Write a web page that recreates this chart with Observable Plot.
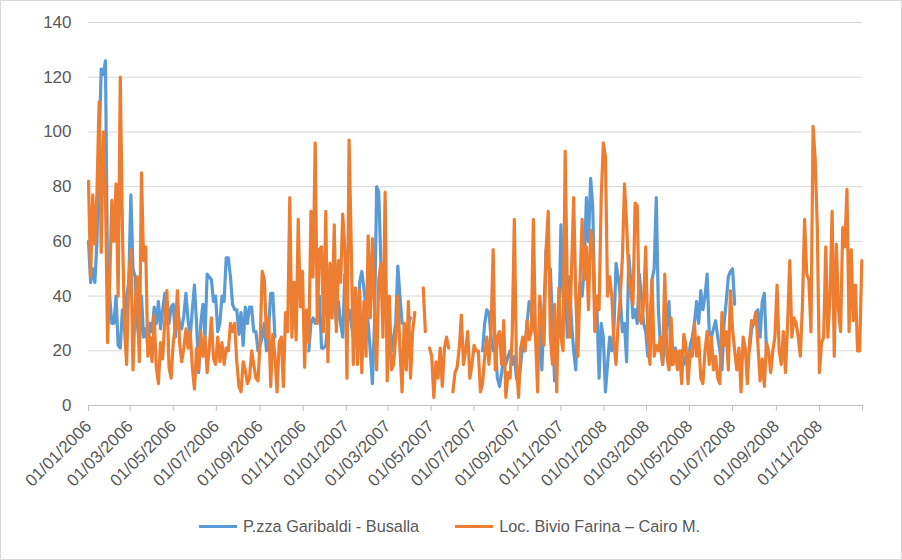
<!DOCTYPE html>
<html><head><meta charset="utf-8">
<script src="https://cdn.jsdelivr.net/npm/d3@7"></script>
<script src="https://cdn.jsdelivr.net/npm/@observablehq/plot@0.6"></script>
<style>
body{margin:0;background:#fff;}
#wrap{position:relative;width:902px;height:560px;font-family:"Liberation Sans",Arial,sans-serif;color:#595959;overflow:hidden;}
#frame{position:absolute;left:0;top:0;width:902px;height:560px;box-sizing:border-box;border:1px solid #D9D9D9;pointer-events:none;}
#chart{position:absolute;left:0;top:0;}
#legend{position:absolute;left:199px;top:517px;display:flex;align-items:center;font-size:16.3px;white-space:nowrap;}
.item{display:flex;align-items:center;margin-right:36px;}
.sw{display:inline-block;width:38px;height:3px;margin-right:6px;}
</style></head>
<body><div id="wrap"><div id="chart"></div><div id="legend"></div><div id="frame"></div></div>
<script>
const startDate = "2006-01-01";
const stepDays = 3;
const seriesNames = ["P.zza Garibaldi - Busalla", "Loc. Bivio Farina \u2013 Cairo M."];
const seriesColors = ["#5B9BD5", "#ED7D31"];
const yTicks = [0, 20, 40, 60, 80, 100, 120, 140];

const busalla = [
  60,45,50,45,60,95,123,121,126,47,
  40,30,30,40,22,21,35,30,40,45,
  77,50,47,30,22,40,25,28,22,30,
  27,36,30,38,28,35,41,38,30,36,
  37,25,35,30,28,33,41,31,25,35,
  44,30,12,30,37,25,48,47,46,38,
  40,27,30,40,38,54,54,47,37,35,
  35,26,34,22,36,30,36,36,27,27,
  20,22,25,30,20,28,41,41,25,null,
  null,null,null,null,null,null,null,null,null,null,
  null,null,null,null,20,30,32,30,32,40,
  21,21,22,30,43,35,40,30,38,30,
  25,48,35,35,30,25,35,30,45,49,
  43,35,30,20,8,30,80,78,52,35,
  40,25,30,20,25,30,51,40,30,30,
  25,30,32,null,null,null,null,null,null,null,
  null,null,null,null,null,null,null,null,null,null,
  null,null,null,null,null,null,null,null,null,null,
  null,null,null,null,null,null,20,30,35,34,
  25,20,22,10,7,12,18,15,18,20,
  15,18,10,8,15,23,20,30,38,35,
  32,25,20,30,13,35,57,50,50,30,
  9,25,30,66,40,45,25,47,30,20,
  13,35,45,40,50,76,60,83,73,35,
  35,10,30,25,5,15,25,20,28,52,
  47,40,27,30,16,55,45,32,35,30,
  48,40,30,27,18,30,46,50,76,35,
  21,15,25,30,38,15,20,21,18,15,
  20,15,18,15,22,25,30,38,30,42,
  35,40,48,27,25,28,31,25,20,13,
  30,38,47,49,50,37,null,null,null,null,
  null,null,20,28,30,34,35,25,38,41,
  20,null,null,null,null,null,null,null,null,null,
  null,null,null,null,null,null,null,null,null,null,
  null,null,null,null,null,null,null,null,null,null,
  null,null,null,null,null,null,null,null,null,null,
  null,null,null,null,null,null
];

const cairo = [
  82,47,77,59,78,111,56,100,78,23,
  45,75,60,81,40,120,65,28,15,45,
  57,13,36,47,16,85,53,58,18,25,
  16,33,14,8,23,17,31,42,14,10,
  23,29,42,23,16,21,28,21,27,14,
  6,21,13,27,18,25,12,21,32,17,
  15,25,16,23,15,21,20,30,27,30,
  16,7,5,16,13,8,10,20,15,10,
  9,23,49,46,25,32,7,26,18,5,
  23,25,7,34,27,76,25,45,24,68,
  36,49,14,35,23,71,47,96,30,57,
  58,27,71,16,52,32,66,27,53,45,
  70,57,10,97,59,15,43,15,42,12,
  38,18,62,32,61,35,13,46,52,25,
  78,9,40,13,15,25,40,21,5,30,
  13,38,10,27,34,null,null,null,43,27,
  null,21,18,3,16,10,21,7,21,25,
  21,null,5,12,14,21,33,15,20,27,
  10,15,22,20,20,5,8,18,25,15,
  27,57,13,25,27,15,31,3,12,10,
  26,68,15,3,21,25,20,31,24,27,
  68,25,5,40,32,22,57,71,25,15,
  37,5,43,25,20,93,42,25,49,76,
  40,18,45,68,46,58,35,64,60,27,
  40,35,76,96,91,40,47,40,23,15,
  30,40,54,81,66,48,40,37,74,73,
  32,30,37,58,25,15,46,18,22,20,
  25,15,48,18,13,32,15,20,13,20,
  8,26,22,8,20,18,30,18,25,10,
  8,20,27,15,25,13,18,10,8,34,
  22,27,13,42,28,20,13,21,5,25,
  21,8,23,31,30,34,22,9,17,7,
  23,20,12,20,25,44,20,15,27,12,
  30,53,25,32,30,25,18,37,68,48,
  46,27,102,90,65,12,23,25,58,25,
  40,71,18,59,35,27,65,58,79,27,
  57,31,44,20,20,53
];

const t0 = new Date(startDate);
const data = cairo.map((v, i) => ({
  date: d3.utcDay.offset(t0, i * stepDays),
  busalla: busalla[i],
  cairo: v
}));

const xStart = new Date(Date.UTC(2006, 0, 1));
const xEnd = new Date(Date.UTC(2009, 0, 1));
const xTicks = d3.utcMonth.every(2).range(xStart, xEnd).concat([xEnd]);
const fmt = d3.utcFormat("%d/%m/%Y");

const chart = Plot.plot({
  width: 902, height: 500,
  marginLeft: 88, marginRight: 40, marginTop: 22, marginBottom: 95,
  style: {fontFamily: "'Liberation Sans', Arial, sans-serif", fontSize: "17px", color: "#595959", background: "transparent"},
  x: {type: "utc", domain: [xStart, xEnd]},
  y: {domain: [0, 140]},
  marks: [
    Plot.gridY(yTicks.slice(1), {stroke: "#D9D9D9", strokeOpacity: 1}),
    Plot.ruleY([0], {stroke: "#BFBFBF"}),
    Plot.line(data, {x: "date", y: "busalla", stroke: seriesColors[0], strokeWidth: 3.2, strokeLinejoin: "round"}),
    Plot.line(data, {x: "date", y: "cairo", stroke: seriesColors[1], strokeWidth: 3.2, strokeLinejoin: "round"}),
    Plot.axisY(yTicks, {tickSize: 0, tickPadding: 17, fontSize: 17, fill: "#595959", label: null}),
    Plot.axisX(xTicks, {tickSize: 6, stroke: "#BFBFBF", tickRotate: -45, tickPadding: 12, fontSize: 17, fill: "#595959", label: null,
      tickFormat: d => (+d >= +xEnd ? "" : fmt(d))})
  ]
});
document.getElementById("chart").appendChild(chart);

const legend = document.getElementById("legend");
seriesNames.forEach((n, k) => {
  const it = document.createElement("div");
  it.className = "item";
  const sw = document.createElement("span");
  sw.className = "sw";
  sw.style.background = seriesColors[k];
  const tx = document.createElement("span");
  tx.textContent = n;
  it.appendChild(sw); it.appendChild(tx);
  legend.appendChild(it);
});
</script></body></html>
